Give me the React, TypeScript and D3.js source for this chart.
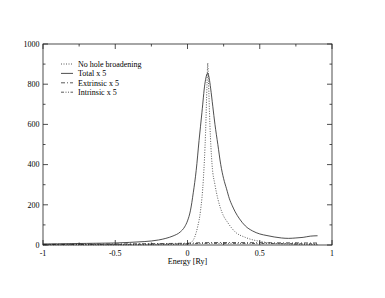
import React from "react";
import * as d3 from "d3";

const totalE = [-1.0,-0.9,-0.8,-0.7,-0.6,-0.5,-0.4,-0.3,-0.25,-0.2,-0.15,-0.1,-0.05,-0.02,0.0,0.02,0.04,0.06,0.08,0.10,0.12,0.14,0.15,0.16,0.175,0.19,0.21,0.23,0.25,0.27,0.29,0.31,0.33,0.36,0.40,0.45,0.50,0.55,0.60,0.65,0.70,0.75,0.80,0.85,0.90];
const totalV = [5,6,7,8,9,10,13,17,20,25,33,45,65,90,120,170,260,370,520,660,800,855,830,780,690,600,500,400,330,280,230,195,165,130,95,70,55,47,40,35,33,35,38,44,46];

const noHoleE = [-1.0,-0.5,-0.2,-0.05,0.0,0.02,0.05,0.07,0.09,0.11,0.125,0.135,0.14,0.145,0.155,0.17,0.19,0.21,0.24,0.28,0.33,0.40,0.50,0.60,0.70,0.80,0.90];
const noHoleV = [1,1,2,4,6,10,40,90,170,330,560,800,905,820,600,400,300,230,160,110,65,38,18,8,5,3,2];

const extrE = [-1.0,-0.5,-0.2,0.0,0.14,0.3,0.6,0.9];
const extrV = [3,5,7,9,12,12,11,10];

const intrE = [-1.0,-0.5,-0.2,0.0,0.14,0.3,0.6,0.9];
const intrV = [2,3,5,6,8,8,7,6];

const xMajor = [-1, -0.5, 0, 0.5, 1];
const xMajorLabels = ["-1", "-0.5", "0", "0.5", "1"];
const xMinor = [-0.75, -0.25, 0.25, 0.75];
const yMajor = [0, 200, 400, 600, 800, 1000];
const yMinor = [100, 300, 500, 700, 900];

const legendLabels = ["No hole broadening", "Total x 5", "Extrinsic x 5", "Intrinsic x 5"];

const W = 385, H = 298;
const L = 43, R = 332, T = 44, B = 245;

export default function App() {
  const x = d3.scaleLinear().domain([-1, 1]).range([L, R]);
  const y = d3.scaleLinear().domain([0, 1000]).range([B, T]);
  const line = (es: number[], vs: number[]) =>
    d3.line<number>().x((_, i) => x(es[i])).y((v) => y(v)).curve(d3.curveMonotoneX)(vs) || "";

  const series = [
    { d: line(noHoleE, noHoleV), dash: "1,1.5", w: 0.75 },
    { d: line(totalE, totalV), dash: "none", w: 0.8 },
    { d: line(extrE, extrV), dash: "4,2,1,2", w: 0.75 },
    { d: line(intrE, intrV), dash: "3,1.5,1,1.5,1,1.5", w: 0.75 },
  ];
  const font = "'Liberation Serif', 'Times New Roman', serif";
  const maj = 5, mn = 2.5;
  const col = "#222";

  return (
    <svg width={W} height={H} style={{ position: "absolute", left: 0, top: 0, background: "#fff" }}>
      <g stroke={col} strokeWidth={0.8} fill="none">
        <rect x={L} y={T} width={R - L} height={B - T} />
        {xMajor.map((v) => (
          <g key={"xm" + v}>
            <line x1={x(v)} x2={x(v)} y1={B} y2={B - maj} />
            <line x1={x(v)} x2={x(v)} y1={T} y2={T + maj} />
          </g>
        ))}
        {xMinor.map((v) => (
          <g key={"xn" + v}>
            <line x1={x(v)} x2={x(v)} y1={B} y2={B - mn} />
            <line x1={x(v)} x2={x(v)} y1={T} y2={T + mn} />
          </g>
        ))}
        {yMajor.map((v) => (
          <g key={"ym" + v}>
            <line x1={L} x2={L + maj} y1={y(v)} y2={y(v)} />
            <line x1={R} x2={R - maj} y1={y(v)} y2={y(v)} />
          </g>
        ))}
        {yMinor.map((v) => (
          <g key={"yn" + v}>
            <line x1={L} x2={L + mn} y1={y(v)} y2={y(v)} />
            <line x1={R} x2={R - mn} y1={y(v)} y2={y(v)} />
          </g>
        ))}
      </g>
      <g fill="none" stroke={col}>
        {series.map((s, i) => (
          <path key={i} d={s.d} strokeWidth={s.w} strokeDasharray={s.dash} />
        ))}
      </g>
      <g fontFamily={font} fontSize={8} fill="#000">
        {yMajor.map((v) => (
          <text key={"yl" + v} x={L - 3.5} y={y(v) + 2.8} textAnchor="end">{v}</text>
        ))}
        {xMajor.map((v, i) => (
          <text key={"xl" + v} x={x(v)} y={B + 10.5} textAnchor="middle">{xMajorLabels[i]}</text>
        ))}
        <text x={(L + R) / 2} y={B + 19} textAnchor="middle">Energy [Ry]</text>
      </g>
      <g fontFamily={font} fontSize={8}>
        {legendLabels.map((lab, i) => {
          const yy = 64 + i * 9.4;
          const s = series[i];
          return (
            <g key={lab}>
              <line x1={61} x2={73} y1={yy} y2={yy} stroke={col} strokeWidth={s.w} strokeDasharray={s.dash} />
              <text x={78} y={yy + 2.8} fill="#000">{lab}</text>
            </g>
          );
        })}
      </g>
    </svg>
  );
}
